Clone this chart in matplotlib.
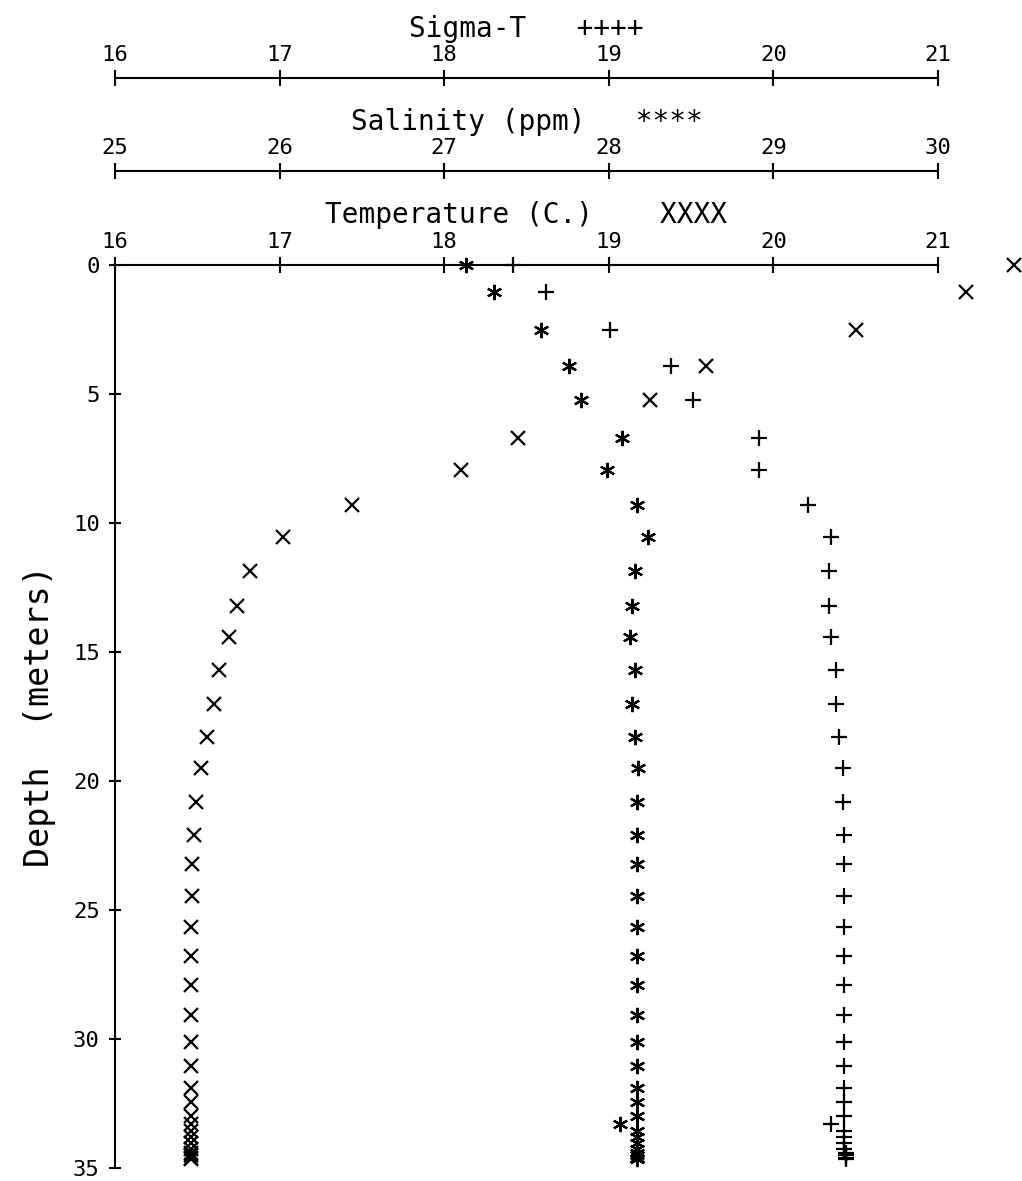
import matplotlib.pyplot as plt

# Perfis (profundidade em metros)
depth = [0.0, 1.05, 2.5, 3.9, 5.25, 6.7, 7.95, 9.3, 10.55, 11.85,
         13.2, 14.4, 15.7, 17.0, 18.3, 19.5, 20.8, 22.1, 23.2, 24.45,
         25.65, 26.8, 27.9, 29.05, 30.1, 31.05, 31.9, 32.45, 33.0, 33.3,
         33.55, 33.8, 34.05, 34.25, 34.4, 34.5, 34.6, 34.65]

temperature = [21.46, 21.17, 20.50, 19.59, 19.25, 18.45, 18.10, 17.44, 17.02, 16.82,
               16.74, 16.69, 16.63, 16.60, 16.56, 16.52, 16.49, 16.48, 16.47, 16.47,
               16.46, 16.46, 16.46, 16.46, 16.46, 16.46, 16.46, 16.46, 16.46, 16.46,
               16.46, 16.46, 16.46, 16.46, 16.46, 16.46, 16.46, 16.46]

salinity = [27.13, 27.30, 27.59, 27.76, 27.83, 28.08, 27.99, 28.17, 28.24, 28.16,
            28.14, 28.13, 28.16, 28.14, 28.16, 28.18, 28.17, 28.17, 28.17, 28.17,
            28.17, 28.17, 28.17, 28.17, 28.17, 28.17, 28.17, 28.17, 28.17, 28.07,
            28.17, 28.17, 28.17, 28.17, 28.17, 28.17, 28.17, 28.17]

sigma_t = [18.42, 18.62, 19.01, 19.38, 19.51, 19.91, 19.91, 20.21, 20.35, 20.34,
           20.34, 20.35, 20.38, 20.38, 20.40, 20.42, 20.42, 20.43, 20.43, 20.43,
           20.43, 20.43, 20.43, 20.43, 20.43, 20.43, 20.43, 20.43, 20.43, 20.35,
           20.43, 20.43, 20.43, 20.43, 20.44, 20.44, 20.44, 20.44]

temp_ticks = [16, 17, 18, 19, 20, 21]
sal_ticks = [25, 26, 27, 28, 29, 30]
sigma_ticks = [16, 17, 18, 19, 20, 21]
depth_ticks = [0, 5, 10, 15, 20, 25, 30, 35]

plt.rcParams['font.family'] = ['DejaVu Sans Mono']

fig = plt.figure(figsize=(10.22, 11.81), dpi=100)
ax = fig.add_axes([0.1125, 0.011, 0.8053, 0.7646])

# Salinidade desenhada na escala da temperatura (25 -> 16)
sal_shift = 9
ax.plot(temperature, depth, 'x', color='black', ms=10, mew=1.6, clip_on=False)
ax.plot([s - sal_shift for s in salinity], depth, ls='none', marker=(6, 2, 0),
        color='black', ms=11, mew=1.6, clip_on=False)
ax.plot(sigma_t, depth, '+', color='black', ms=12, mew=1.6, clip_on=False)

ax.set_xlim(16, 21)
ax.set_ylim(35, 0)
ax.spines['right'].set_visible(False)
ax.spines['bottom'].set_visible(False)
for s in ['top', 'left']:
    ax.spines[s].set_linewidth(1.5)

ax.xaxis.tick_top()
ax.xaxis.set_label_position('top')
ax.set_xticks(temp_ticks)
ax.set_yticks(depth_ticks)
ax.tick_params(axis='x', direction='inout', length=11, width=1.5, labelsize=16, pad=4)
ax.tick_params(axis='y', direction='inout', length=8, width=1.5, labelsize=16, pad=7)
ax.set_xlabel('Temperature (C.)    XXXX', fontsize=20, labelpad=6)
ax.set_ylabel('Depth  (meters)', fontsize=24, labelpad=12)

# Eixos secundários acima
sal_ax = ax.secondary_xaxis(1.104, functions=(lambda t: t + sal_shift, lambda s: s - sal_shift))
sig_ax = ax.secondary_xaxis(1.207, functions=(lambda t: t, lambda s: s))
for sec, ticks, label in [(sal_ax, sal_ticks, 'Salinity (ppm)   ****'),
                          (sig_ax, sigma_ticks, 'Sigma-T   ++++')]:
    sec.set_xticks(ticks)
    sec.tick_params(axis='x', direction='inout', length=11, width=1.5, labelsize=16, pad=4)
    sec.set_xlabel(label, fontsize=20, labelpad=6)
    for sp in sec.spines.values():
        sp.set_linewidth(1.5)

fig.savefig('out.png', dpi=100)
